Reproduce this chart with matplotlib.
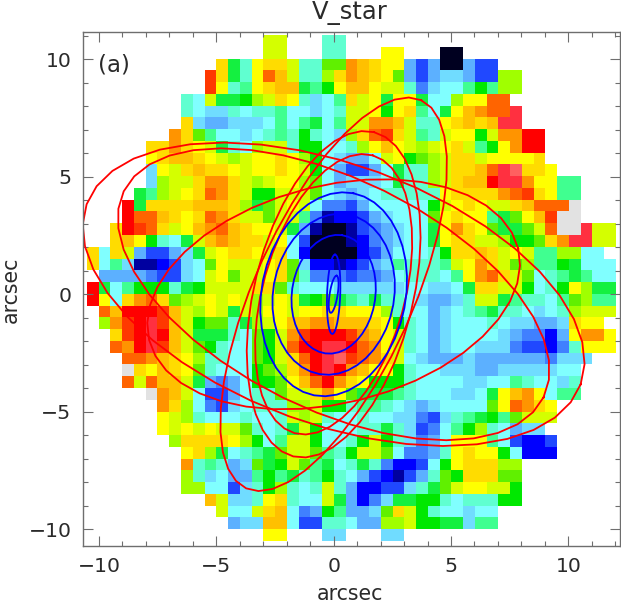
import numpy as np
import matplotlib
matplotlib.use("Agg")
import matplotlib.pyplot as plt
from matplotlib.colors import ListedColormap
from matplotlib.ticker import MultipleLocator

plt.rcParams['font.family'] = ['DejaVu Sans']
plt.rcParams['axes.unicode_minus'] = True

# velocity-map levels (low to high), one letter per level
LEVELS = "ABCDEFGHIJKLMNOPQRSTUVWXY"
LEVEL_COLOURS = ["#000020", "#0000a0", "#0000ff", "#2048ff", "#4080ff", "#5cb0ff", "#70dcff",
                 "#80ffff", "#60ffd0", "#40ff90", "#14f040", "#00e800", "#60f000", "#a0ff00",
                 "#d4ff00", "#ffff00", "#ffdc00", "#ffc000", "#ff9400", "#ff6400", "#ff3800",
                 "#ff0000", "#ff3040", "#ff6060", "#e2e2e2"]

# map rows from the top (y = 11) down; each row is (first column, level letters)
MAP_ROWS = [
    (15, "OO...II"),
    (15, "OO...II...PP...AA"),
    (11, "QKIPQQOIIMMSRQPPFDFAAFDD"),
    (10, "UQKIPTROIINQSRQPMFDFGGFDDNN"),
    (10, "UPIJPQRRKJLPRRPOOIEGHHJLJNN"),
    (8, "IHOKKLNOQPIGHJQOPKPPKHHNPPTT"),
    (8, "IHGGIHIIJHHGHIOOPLPQJHKPRSTTW"),
    (8, "QGFFGGGHJHJKHJOOSSROIIPQRQRWW"),
    (7, "SQMJHHGHIJILIHGNQTUQOJIOPPLOSSVV"),
    (5, "QQSQPOKIHNOOILLHHINPRPONOPQOJLPSVV"),
    (5, "PQRRQPONOPPQPNLHGFFHOPLMNOQQOPPPPQ"),
    (5, "GPOQRQQPOPPQPOLHFDDFHKIINOQQRTWXQQP"),
    (5, "GNOOQSSQONOPPNMHFGGGHKIINOQRRVWWSPPJJ"),
    (4, "KJNOPQTSQOLLOOOMHGFGHIIIIIPQQQQSTUQPJJ"),
    (3, "VKQQQQRRRQNKMOPOHEEDFHHHHHLOPQPOOQRTTTY"),
    (3, "VTTRQPQTSQOOMOOJEBCCDFGHHHMPQPPJKMPRUYY"),
    (2, "QVUTQOPRSTRQPPOKFBAABDEFGHHKPSQPMKKMOTYYWOO"),
    (2, "QRPLIHKORSRQQOPHDAAABCEFGHHKPQQOONLLMQSWWOO"),
    (0, "QHQOFDDFGKOPQQPOQHCAAAACDFHHHILQQRQOPOJJNNHH"),
    (0, "QHJGBBCDGHMPOOOPQMGCCBCDFGJIIIJOPSQOMNJJLKHHH"),
    (1, "FFFFEDDGHOPMOOPQMIEEEDEEFHIIIHJPSTQOMHIJKJHH"),
    (0, "VKHJLLLIKLOOOOQQMIHHHGGGGGGHHGGHKQQOOLHILPNKK"),
    (0, "VPHQSTQMNOPOPONOPOKLMKJIKIIHGFFGIOOKJIIHJMNJJ"),
    (1, "TRVVVURONPOKONPPOPPQQPPPNIHHFGHIJKIIHGHINOOO"),
    (1, "NSUVWUROLMMIKNOPRRSSRRRQPLIHFGHHHIHGGFFGQPP"),
    (2, "QUVWVROKKKIHMLOSUVVVUSRPOIHFGHHHHGFEECFPSSP"),
    (2, "TSVWUROMLIHHMLOTVVWWVTSPOIHFGHHGGGEDDCEIPPP"),
    (3, "TTSRQPNIIHHMLOQTVWXUTSQOHGFFFGFFFFFFEGGG"),
    (3, "YQPRQPMIHHHLMNQSVWVSRPPLIHHGGGFFGGGGGHH"),
    (3, "TOTRROKFEFHLLMPRTVSQPLLLIHHHHGGHHJIHHGI"),
    (5, "YSROHDDFHIIMOOQSPMKKKJIHHHGGHKPRSPHJJ"),
    (6, "SQNHEDGHIIINNOLLIJJIHGFGHHHHMPTSQP"),
    (6, "PONIHHHIHHIONOIHHIHHGGEDGIJKLJMOOO"),
    (6, "POPOPOOMIHIKOLHHHIIKIGDEHJLNIHFGG"),
    (7, "NQQQQPNLHJOOLHHILOLIGEFHPPPJHDCCD"),
    (8, "PQNKHIJKMOOMJILOOMHEEFIPQPPLHCCC"),
    (8, "SIJIFGMKLOMJKHIKIECCDHLPQQQNN"),
    (8, "NIGHFFJLJKIJLIHFDCBDFIMLQQQMM"),
    (8, "NNHHDGILNIHIOIFCCDDGIKMOPPOOL"),
    (10, "ROGGIPQIHHOKFCEGKKLLIHIIILL"),
    (11, "OHHOQRHEFLJFFGMQOLIHHGHH"),
    (12, "FGGRRHDDIIHFFNNOLLKKGJJ"),
    (15, "PP...GG...GG"),
]
N_COLS = 45
MAP_EXTENT = (-10.5, 12.0, -10.5, 11.0)

# ellipses: semi-major, semi-minor, tilt of major axis clockwise from +y (deg)
BLUE_A = [4.38, 3.45, 2.54, 1.69, 0.80]
BLUE_B = [3.07, 2.58, 1.78, 0.28, 0.17]
BLUE_T = [11.0, 10.0, 8.0, 2.0, 9.0]
RED_A = [9.06, 7.11, 6.14, 11.2, 9.96, 8.10]
RED_B = [3.37, 3.38, 3.02, 5.53, 4.90, 4.63]
RED_T = [24.3, 14.0, 15.7, 110.0, 116.1, 76.1]

TITLE = "V_star"
XLABEL = "arcsec"
YLABEL = "arcsec"
PANEL = "(a)"

grid = np.full((len(MAP_ROWS), N_COLS), np.nan)
for r, (start, letters) in enumerate(MAP_ROWS):
    for k, ch in enumerate(letters):
        if ch != '.':
            grid[r, start + k] = LEVELS.index(ch)

W, H = 621, 605
fig = plt.figure(figsize=(W / 100, H / 100), dpi=100)
ax = fig.add_axes([82.5 / W, 1 - 546 / H, (620 - 82.5) / W, (546 - 31.5) / H])

cmap = ListedColormap(LEVEL_COLOURS)
cmap.set_bad((1, 1, 1, 0))
ax.imshow(np.ma.masked_invalid(grid), cmap=cmap, vmin=-0.5, vmax=len(LEVELS) - 0.5,
          extent=MAP_EXTENT, origin='upper', interpolation='nearest', aspect='auto')


def draw_ellipse(a, b, tilt, colour):
    t = np.radians(np.linspace(0, 360, 41))
    th = np.radians(tilt)
    u, v = a * np.cos(t), b * np.sin(t)
    ax.plot(u * np.sin(th) + v * np.cos(th), u * np.cos(th) - v * np.sin(th),
            color=colour, lw=1.3, solid_joinstyle='round')


for a, b, t in zip(RED_A, RED_B, RED_T):
    draw_ellipse(a, b, t, '#ff0000')
for a, b, t in zip(BLUE_A, BLUE_B, BLUE_T):
    draw_ellipse(a, b, t, '#0000ff')

ax.set_xlim(-10.70, 12.2)
ax.set_ylim(-10.71, 11.18)

grey = '#6e6e6e'
text_colour = '#2a2a2a'
for s in ax.spines.values():
    s.set_color(grey)
    s.set_linewidth(1.0)
ax.xaxis.set_major_locator(MultipleLocator(5))
ax.xaxis.set_minor_locator(MultipleLocator(1))
ax.yaxis.set_major_locator(MultipleLocator(5))
ax.yaxis.set_minor_locator(MultipleLocator(1))
ax.tick_params(which='both', direction='in', top=True, right=True, color=grey, width=0.8)
ax.tick_params(which='major', length=7.5, labelsize=14.7, labelcolor=text_colour, pad=8)
ax.tick_params(which='minor', length=3.8)

fig.text(350 / W, 1 - 13 / H, TITLE, fontsize=17.5, color=text_colour, ha='center', va='center')
fig.text(350 / W, 1 - 594 / H, XLABEL, fontsize=14.8, color=text_colour, ha='center', va='center')
fig.text(11 / W, 1 - 290 / H, YLABEL, fontsize=14.8, color=text_colour, ha='center', va='center',
         rotation=90)
fig.text(98 / W, 1 - 65 / H, PANEL, fontsize=16.5, color=text_colour, va='center', ha='left')

fig.savefig('out.png', dpi=100)
